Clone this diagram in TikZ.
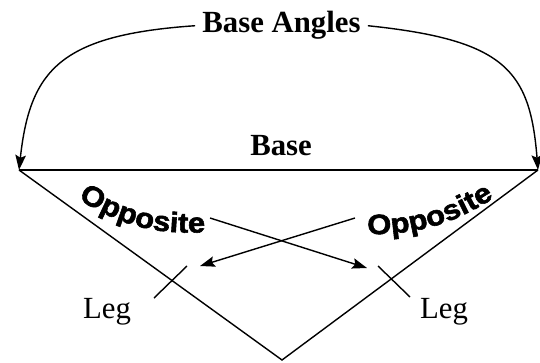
\documentclass[tikz,border=0pt]{standalone}
\usepackage{fontspec}
\setmainfont{Liberation Serif}
\newfontfamily\oppfont[FakeStretch=1.1,FakeBold=2]{Liberation Sans}
\usetikzlibrary{arrows.meta,decorations.text}

\begin{document}
\begin{tikzpicture}
\tikzstyle{lbl}=[font=\fontsize{17.5}{20}\selectfont, inner ysep=0pt, inner xsep=4pt, anchor=base]
\tikzstyle{arr}=[-{Stealth[length=8.5pt,width=6pt,inset=1.5pt]}, line width=0.8pt]
\tikzstyle{opp}=[decorate, decoration={text along path, text align=center,
  text={|\oppfont\fontsize{16}{18}\selectfont\bfseries|Opposite}}]
\useasboundingbox (0,0) rectangle (10.8,7.24);

% triangle
\coordinate (left) at (0.38,3.84);
\coordinate (right) at (10.76,3.84);
\coordinate (apex) at (5.64,0.04);
\draw[line width=1.2pt] (left) -- (right);
\draw[line width=0.8pt] (left) -- (apex) -- (right);

% tick marks
\coordinate (t1a) at (3.74,1.92);
\coordinate (t1b) at (3.08,1.28);
\coordinate (t2a) at (7.56,1.92);
\coordinate (t2b) at (8.2,1.30);
\draw[line width=0.8pt] (t1a) -- (t1b);
\draw[line width=0.8pt] (t2a) -- (t2b);

% labels
\node[lbl, font=\fontsize{17.5}{20}\selectfont\bfseries] (angles) at (5.63,6.58) {Base Angles};
\node[lbl, font=\fontsize{17.5}{20}\selectfont\bfseries] (base) at (5.62,4.14) {Base};
\node[lbl] (legL) at (2.14,0.88) {Leg};
\node[lbl] (legR) at (8.88,0.88) {Leg};

% curved labels
\path[opp] (1.50,3.30) to[bend right=18] (4.18,2.60);
\path[opp] (7.14,2.56) to[bend right=18] (10.06,3.40);

% arrows
\coordinate (oppL) at (4.2,2.88);
\coordinate (oppR) at (7.1,2.88);
\coordinate (tipL) at (4.0,1.92);
\coordinate (tipR) at (7.34,1.88);
\draw[arr] (oppL) -- (tipR);
\draw[arr] (oppR) -- (tipL);
\draw[arr] (angles.west) .. controls (1.2,6.54) and (0.6,5.84) .. (left);
\draw[arr] (angles.east) .. controls (10.1,6.44) and (10.6,5.84) .. (right);
\end{tikzpicture}
\end{document}
